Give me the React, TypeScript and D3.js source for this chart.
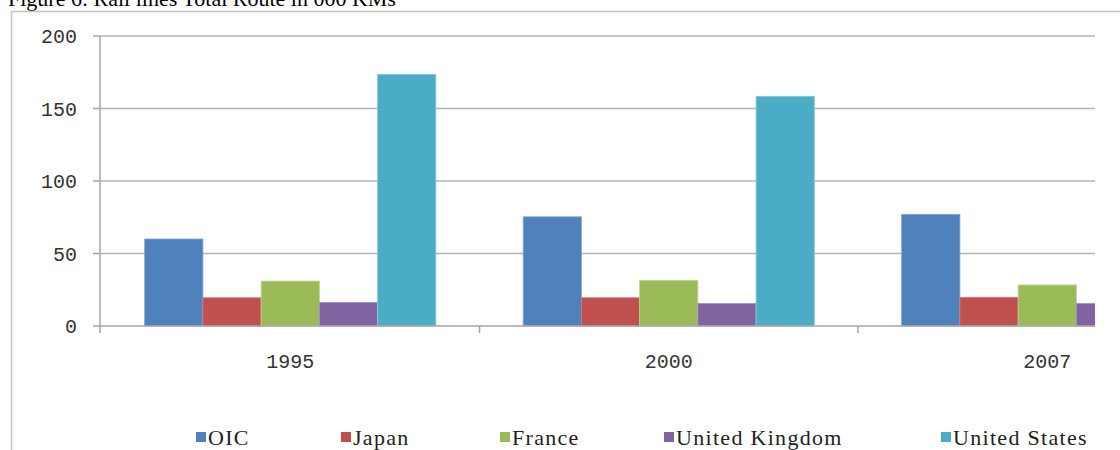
import React from "react";
import * as d3 from "d3";

const years = ["1995", "2000", "2007"];
const seriesNames = ["OIC", "Japan", "France", "United Kingdom", "United States"];
const oic = [60, 75.3, 77];
const japan = [19.5, 19.5, 19.8];
const france = [31, 31.5, 28.3];
const uk = [16.3, 15.6, 15.6];
const us = [173.6, 158.4, 155];
const yTicks = [0, 50, 100, 150, 200];
const colors = ["#4F81BD", "#C0504D", "#9BBB59", "#8064A2", "#4BACC6"];
const strokes = ["#7ea3d3", "#d27c7a", "#bdd595", "#a593c0", "#86cadb"];
const title = "Figure 6: Rail lines Total Route in 000 KMs";

const W = 1120;
const H = 450;

export default function App() {
  const values = [oic, japan, france, uk, us];
  const left = 101;
  const band = 378.5;
  const x0 = d3.scaleBand<string>().domain(years).range([left, left + band * years.length]).padding(0);
  const barW = band / 6.5;
  const x1 = d3
    .scaleBand<string>()
    .domain(seriesNames)
    .range([barW * 0.75, band - barW * 0.75])
    .padding(0);
  const y = d3.scaleLinear().domain([0, 200]).range([326, 36]);
  const clipRight = 1095;
  const axisColor = "#a6a6a6";
  const gridColor = "#b4b4b4";

  const legendX = [196, 341, 500, 664, 941];

  return (
    <div style={{ position: "absolute", left: 0, top: 0 }}>
      <svg width={W} height={H} style={{ display: "block", background: "#fff" }}>
        <defs>
          <clipPath id="plotclip">
            <rect x={0} y={0} width={clipRight} height={H} />
          </clipPath>
        </defs>
        <text x={8} y={6} fontFamily="'Liberation Serif', serif" fontSize={22} fill="#000">
          {title}
        </text>
        {/* outer frame */}
        <line x1={11.5} x2={11.5} y1={11} y2={H} stroke="#c3c3c3" strokeWidth={1.5} />
        <line x1={11} x2={W} y1={11.5} y2={11.5} stroke="#c3c3c3" strokeWidth={1.5} />

        <g clipPath="url(#plotclip)">
          {yTicks
            .filter((t) => t > 0)
            .map((t) => (
              <line key={"g" + t} x1={100} x2={left + band * 3} y1={y(t)} y2={y(t)} stroke={gridColor} strokeWidth={1.5} />
            ))}
          {years.map((yr, i) =>
            values.map((vals, s) => {
              const xx = (x0(yr) as number) + (x1(seriesNames[s]) as number);
              return (
                <rect
                  key={yr + s}
                  x={xx}
                  y={y(vals[i])}
                  width={x1.bandwidth()}
                  height={y(0) - y(vals[i])}
                  fill={colors[s]}
                  stroke={strokes[s]}
                  strokeWidth={0.8}
                />
              );
            })
          )}
          {/* x axis */}
          <line x1={100} x2={left + band * 3} y1={y(0)} y2={y(0)} stroke={axisColor} strokeWidth={1.5} />
          {years.slice(1).map((yr, i) => (
            <line
              key={"xt" + i}
              x1={x0(yr) as number}
              x2={x0(yr) as number}
              y1={y(0)}
              y2={y(0) + 7}
              stroke={axisColor}
              strokeWidth={1.5}
            />
          ))}
        </g>
        {/* y axis */}
        <line x1={100} x2={100} y1={y(200)} y2={y(0) + 7} stroke={axisColor} strokeWidth={1.5} />
        {yTicks.map((t) => (
          <g key={"yt" + t}>
            <line x1={93} x2={100} y1={y(t)} y2={y(t)} stroke={axisColor} strokeWidth={1.5} />
            <text
              x={77}
              y={y(t)}
              dy="0.35em"
              textAnchor="end"
              fontFamily="'Liberation Mono', monospace"
              fontSize={20}
              fill="#333"
            >
              {t}
            </text>
          </g>
        ))}
        {years.map((yr) => (
          <text
            key={"xl" + yr}
            x={(x0(yr) as number) + x0.bandwidth() / 2}
            y={368}
            textAnchor="middle"
            fontFamily="'Liberation Mono', monospace"
            fontSize={20}
            fill="#333"
          >
            {yr}
          </text>
        ))}
        {/* legend */}
        {seriesNames.map((n, i) => (
          <g key={"lg" + n}>
            <rect x={legendX[i]} y={432} width={10} height={10} fill={colors[i]} />
            <text
              x={legendX[i] + 12}
              y={445}
              fontFamily="'Liberation Serif', serif"
              fontSize={22}
              letterSpacing={1.3}
              fill="#222"
            >
              {n}
            </text>
          </g>
        ))}
      </svg>
    </div>
  );
}
